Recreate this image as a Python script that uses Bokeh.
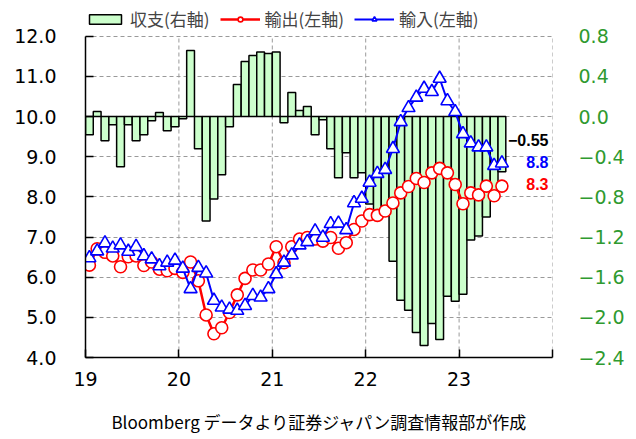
import numpy as np
import pandas as pd
from bokeh.plotting import figure
from bokeh.models import (Range1d, LinearAxis, FixedTicker, CustomJSTickFormatter,
                          Legend, Label, ColumnDataSource)
from bokeh.embed import file_html
from bokeh.resources import INLINE

# ---------------- data (trillion yen, seasonally adjusted) ----------------
start_month = "2019-01"
balance = [
    -0.18, 0.05, -0.24, -0.08, -0.50, -0.08, -0.24, -0.18, -0.04, 0.04, -0.14, -0.10,
    -0.02, 0.66, -0.32, -1.04, -0.82, -0.58, -0.10, 0.32, 0.55, 0.61, 0.645, 0.63,
    0.645, -0.06, 0.24, 0.06, 0.10, -0.18, -0.03, -0.32, -0.61, -0.36, -0.61, -0.56,
    -0.87, -0.97, -0.99, -1.44, -1.83, -1.93, -2.15, -2.28, -2.06, -2.22, -1.79, -1.84,
    -1.77, -1.23, -1.19, -1.00, -0.80, -0.55]
exports = [
    6.30, 6.71, 6.62, 6.53, 6.26, 6.51, 6.53, 6.29, 6.38, 6.20, 6.16, 6.22,
    6.12, 6.38, 5.91, 5.06, 4.59, 4.74, 5.12, 5.56, 5.97, 6.18, 6.18, 6.33,
    6.76, 6.36, 6.76, 6.95, 6.99, 6.95, 6.90, 6.99, 6.72, 6.86, 7.19, 7.40,
    7.56, 7.54, 7.65, 7.85, 8.10, 8.26, 8.46, 8.36, 8.60, 8.71, 8.60, 8.31,
    7.83, 8.10, 8.05, 8.27, 8.03, 8.27]
imports = [
    6.48, 6.65, 6.85, 6.72, 6.80, 6.64, 6.76, 6.53, 6.45, 6.28, 6.37, 6.42,
    6.22, 5.71, 6.24, 6.10, 5.42, 5.25, 5.20, 5.17, 5.29, 5.54, 5.50, 5.71,
    6.08, 6.37, 6.55, 6.80, 6.88, 7.15, 6.99, 7.33, 7.34, 7.18, 7.85, 7.96,
    8.36, 8.58, 8.68, 9.20, 9.87, 10.22, 10.48, 10.70, 10.62, 10.95, 10.39, 10.12,
    9.57, 9.34, 9.24, 9.24, 8.78, 8.84]
year_ticks = [2019, 2020, 2021, 2022, 2023, 2024]
year_labels = ["19", "20", "21", "22", "23", ""]
left_ticks = [4, 5, 6, 7, 8, 9, 10, 11, 12]
right_ticks = [-2.4, -2.0, -1.6, -1.2, -0.8, -0.4, 0.0, 0.4, 0.8]
legend_labels = ["収支(右軸)", "輸出(左軸)", "輸入(左軸)"]
end_labels = ["\u22120.55", "8.8", "8.3"]
footer = "Bloomberg データより証券ジャパン調査情報部が作成"

# ---------------- derived x positions ----------------
dates = pd.date_range(start_month, periods=len(balance), freq="MS")
xc = dates.year + (dates.month - 0.5) / 12.0
src = ColumnDataSource(dict(x=xc, bal=balance, exp=exports, imp=imports))

NUM_FONT = "DejaVu Sans"
JP_FONT = "Noto Sans CJK JP"
GREEN = "#2f9a2f"
GRID = "#9a9a9a"

# layout: axis part of the frame is 323 px tall; 30 px extra on top hold the legend
AX_H, EXTRA = 323.0, 30.0
L0, L1 = left_ticks[0], left_ticks[-1]
R0, R1 = right_ticks[0], right_ticks[-1]
ltop = L0 + (L1 - L0) * (AX_H + EXTRA) / AX_H
rtop = R0 + (R1 - R0) * (AX_H + EXTRA) / AX_H

p = figure(width=630, height=436, output_backend="svg", toolbar_location=None,
           x_range=Range1d(year_ticks[0], year_ticks[-1]), y_range=Range1d(L0, ltop),
           min_border_left=85, min_border_right=78, min_border_top=6,
           min_border_bottom=77)
p.extra_y_ranges = {"r": Range1d(R0, rtop)}
p.outline_line_color = None
p.background_fill_color = "white"

# grid: horizontal via Grid, vertical drawn only over the axis span
p.xgrid.visible = False
p.ygrid.ticker = FixedTicker(ticks=left_ticks)
p.ygrid.grid_line_color = GRID
p.ygrid.grid_line_dash = "4 3"
p.ygrid.grid_line_width = 1
p.segment(x0=year_ticks[1:], x1=year_ticks[1:], y0=L0, y1=L1,
          line_color=GRID, line_dash="4 3", line_width=1)

# bars (right axis)
bars = p.vbar(x="x", top="bal", bottom=0, width=1 / 12.0, source=src,
              y_range_name="r", fill_color="#ccffcc", line_color="black",
              line_width=1.5)

# exports (red circles)
rline = p.line("x", "exp", source=src, line_color="#ff0000", line_width=2.5)
rsc = p.scatter("x", "exp", source=src, marker="circle", size=12,
                fill_color="white", line_color="#ff0000", line_width=1.6)
# imports (blue triangles)
bline = p.line("x", "imp", source=src, line_color="#0000ff", line_width=2)
bsc = p.scatter("x", "imp", source=src, marker="triangle", size=13,
                fill_color="white", line_color="#0000ff", line_width=1.6)

# axes
xa = p.xaxis[0]
xa.ticker = FixedTicker(ticks=year_ticks)
xa.major_label_overrides = {t: l for t, l in zip(year_ticks, year_labels)}
xa.minor_tick_line_color = None
xa.major_tick_in = 8
xa.major_tick_out = 0
xa.axis_line_width = 1.5
xa.major_tick_line_width = 1.5
xa.major_label_text_font = NUM_FONT
xa.major_label_text_font_size = "19px"
xa.major_label_text_color = "black"
xa.major_label_standoff = 14
xa.axis_label = footer
xa.axis_label_text_font = JP_FONT
xa.axis_label_text_font_size = "17px"
xa.axis_label_text_font_style = "normal"
xa.axis_label_text_color = "black"
xa.axis_label_standoff = 20

ya = p.yaxis[0]
ya.ticker = FixedTicker(ticks=left_ticks)
ya.bounds = (L0, L1)
ya.formatter = CustomJSTickFormatter(code="return tick.toFixed(1);")
ya.minor_tick_line_color = None
ya.major_tick_in = 8
ya.major_tick_out = 0
ya.axis_line_width = 1.5
ya.major_tick_line_width = 1.5
ya.major_label_text_font = NUM_FONT
ya.major_label_text_font_size = "19px"
ya.major_label_text_color = "black"
ya.major_label_standoff = 29

ra = LinearAxis(y_range_name="r", ticker=FixedTicker(ticks=right_ticks),
                bounds=(R0, R1),
                formatter=CustomJSTickFormatter(
                    code="return (tick < -1e-9 ? '\\u2212' : '') + Math.abs(tick).toFixed(1);"))
ra.axis_line_color = None
ra.major_tick_line_color = None
ra.minor_tick_line_color = None
ra.major_label_text_font = NUM_FONT
ra.major_label_text_font_size = "19px"
ra.major_label_text_color = GREEN
ra.major_label_standoff = 20
p.add_layout(ra, "right")

# end-of-series labels
end_colors = ["black", "#0000ff", "#ff0000"]
end_y = [9.42, 8.88, 8.31]
for t, c, yv in zip(end_labels, end_colors, end_y):
    p.add_layout(Label(x=2023.957, y=yv, text=t, text_align="right",
                       text_baseline="middle", text_color=c,
                       text_font="Liberation Sans", text_font_style="bold",
                       text_font_size="16px"))

# legend in the strip above the axis span
legend = Legend(items=[(legend_labels[0], [bars]),
                       (legend_labels[1], [rline, rsc]),
                       (legend_labels[2], [bline, bsc])],
                orientation="horizontal", location=(0, 326))
legend.glyph_width = 40
legend.glyph_height = 12
legend.label_text_font = JP_FONT
legend.label_text_font_size = "17px"
legend.label_standoff = 5
legend.spacing = 10
legend.padding = 0
legend.margin = 0
legend.border_line_color = None
legend.background_fill_alpha = 0
p.add_layout(legend, "center")

open("out.html", "w").write(file_html(p, INLINE))
